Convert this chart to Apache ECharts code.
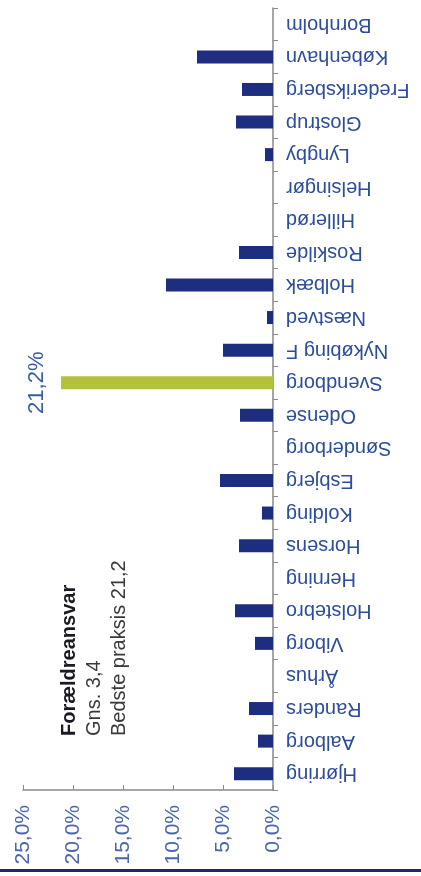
<!DOCTYPE html>
<html>
<head>
<meta charset="utf-8">
<script src="https://cdn.jsdelivr.net/npm/echarts@6/dist/echarts.min.js"></script>
<style>
html,body{margin:0;padding:0;background:#fff;}
#chart{width:421px;height:876px;}
</style>
</head>
<body>
<div id="chart"></div>
<script>
// Categories from bottom (first) to top (last)
const categories = ['Hjørring','Aalborg','Randers','Århus','Viborg','Holstebro','Herning','Horsens','Kolding','Esbjerg','Sønderborg','Odense','Svendborg','Nykøbing F','Næstved','Holbæk','Roskilde','Hillerød','Helsingør','Lyngby','Glostrup','Frederiksberg','København','Bornholm'];
const values = [3.9,1.5,2.4,0,1.8,3.8,0,3.4,1.1,5.3,0,3.3,21.2,5.0,0.6,10.7,3.4,0,0,0.8,3.7,3.1,7.6,0];
const highlight = 'Svendborg';
const valueTicks = [0,5,10,15,20,25];
const titleLines = ['Forældreansvar','Gns. 3,4','Bedste praksis 21,2'];

const FONT = '"Liberation Sans", Arial, sans-serif';
const chart = echarts.init(document.getElementById('chart'));

const seriesData = categories.map((c, i) => {
  const d = { value: values[i] };
  if (c === highlight) {
    d.itemStyle = { color: '#b3c23a' };
    d.label = {
      show: true,
      position: 'left',
      rotate: 90,
      align: 'center',
      verticalAlign: 'bottom',
      distance: 13,
      formatter: p => p.value.toFixed(1).replace('.', ',') + '%',
      color: '#3b5ba5',
      fontSize: 22,
      fontFamily: FONT
    };
  }
  return d;
});

chart.setOption({
  animation: false,
  backgroundColor: '#fff',
  grid: { left: 23, right: 148, top: 8, bottom: 86, containLabel: false },
  xAxis: {
    type: 'value',
    inverse: true,
    position: 'bottom',
    min: valueTicks[0],
    max: valueTicks[valueTicks.length - 1],
    interval: valueTicks[1] - valueTicks[0],
    splitLine: { show: false },
    axisLine: { show: true, lineStyle: { color: '#8a8a8a', width: 1.5 } },
    axisTick: { show: true, inside: true, length: 5, lineStyle: { color: '#8a8a8a' } },
    axisLabel: {
      rotate: 90,
      margin: 15,
      color: '#4a66ad',
      fontSize: 21,
      fontFamily: FONT,
      formatter: v => v.toFixed(1).replace('.', ',') + '%'
    }
  },
  yAxis: {
    type: 'category',
    position: 'right',
    data: categories,
    axisLine: { show: true, lineStyle: { color: '#8a8a8a', width: 1.5 } },
    axisTick: { show: true, length: 5, lineStyle: { color: '#8a8a8a' } },
    axisLabel: {
      rotate: 180,
      margin: 13,
      color: '#2c4c9c',
      fontSize: 20,
      fontFamily: FONT
    }
  },
  series: [{
    type: 'bar',
    data: seriesData,
    barWidth: 13,
    itemStyle: { color: '#1d2d80' }
  }],
  graphic: [
    { type: 'text', x: 69, y: 736, rotation: Math.PI / 2,
      style: { text: titleLines[0], fill: '#1a1a22', font: 'bold 20px ' + FONT, textAlign: 'left', textVerticalAlign: 'middle' } },
    { type: 'text', x: 94, y: 736, rotation: Math.PI / 2,
      style: { text: titleLines[1], fill: '#3a3a3a', font: '20px ' + FONT, textAlign: 'left', textVerticalAlign: 'middle' } },
    { type: 'text', x: 119, y: 736, rotation: Math.PI / 2,
      style: { text: titleLines[2], fill: '#3a3a3a', font: '20px ' + FONT, textAlign: 'left', textVerticalAlign: 'middle' } },
    { type: 'rect', shape: { x: 0, y: 869, width: 421, height: 3 }, style: { fill: '#1b2a6b' } }
  ]
});
</script>
</body>
</html>
